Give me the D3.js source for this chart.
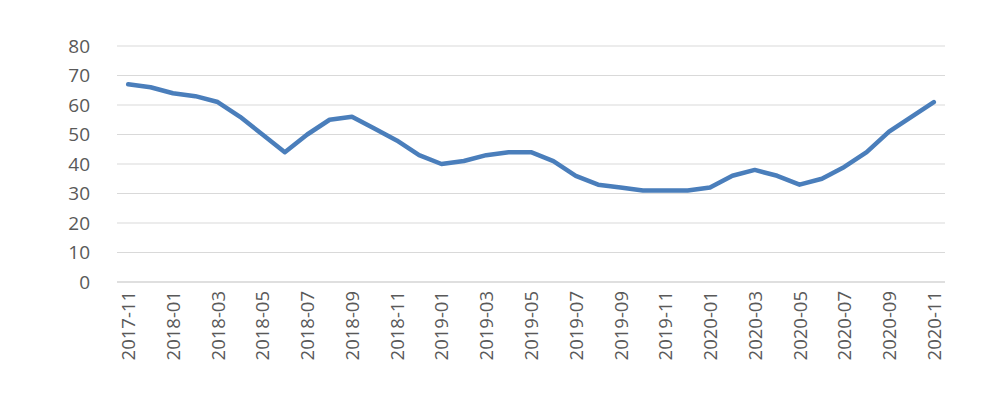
<!DOCTYPE html>
<html><head><meta charset="utf-8">
<script src="https://cdn.jsdelivr.net/npm/d3@7"></script>
<style>body{margin:0;background:#fff}</style></head>
<body><svg id="c" width="1000" height="401"></svg>
<script>
const months = ["2017-11","2017-12","2018-01","2018-02","2018-03","2018-04","2018-05","2018-06","2018-07","2018-08","2018-09","2018-10","2018-11","2018-12","2019-01","2019-02","2019-03","2019-04","2019-05","2019-06","2019-07","2019-08","2019-09","2019-10","2019-11","2019-12","2020-01","2020-02","2020-03","2020-04","2020-05","2020-06","2020-07","2020-08","2020-09","2020-10","2020-11"];
const values = [67,66,64,63,61,56,50,44,50,55,56,52,48,43,40,41,43,44,44,41,36,33,32,31,31,31,32,36,38,36,33,35,39,44,51,56,61];
const yTicks = [0,10,20,30,40,50,60,70,80];

const svg = d3.select("#c");
const L=117,R=945,T=46,B=282;
const x = d3.scaleBand().domain(months).range([L,R]);
const y = d3.scaleLinear().domain([0,80]).range([B,T]);
const font="'Open Sans', 'Noto Sans', sans-serif";

svg.append("g").selectAll("line").data(yTicks).join("line")
  .attr("x1",L).attr("x2",R).attr("y1",d=>y(d)).attr("y2",d=>y(d))
  .attr("stroke",d=>d===0?"#bfbfbf":"#d9d9d9").attr("stroke-width",1);
svg.append("g").selectAll("text").data(yTicks).join("text")
  .attr("x",90).attr("y",d=>y(d)).attr("dy","0.35em").attr("text-anchor","end")
  .attr("font-family",font).attr("font-size",19).attr("fill","#595959").text(d=>d);

svg.append("g").selectAll("text").data(months.filter((m,i)=>i%2===0)).join("text")
  .attr("transform",d=>`translate(${x(d)+x.bandwidth()/2+7},${B+9}) rotate(-90)`)
  .attr("text-anchor","end").attr("font-family",font).attr("font-size",18.5).attr("fill","#595959").text(d=>d);

const line = d3.line().x((d,i)=>x(months[i])+x.bandwidth()/2).y(d=>y(d));
svg.append("path").datum(values).attr("d",line).attr("fill","none")
  .attr("stroke","#4a7ebb").attr("stroke-width",4.5).attr("stroke-linejoin","round").attr("stroke-linecap","round");
</script></body></html>
